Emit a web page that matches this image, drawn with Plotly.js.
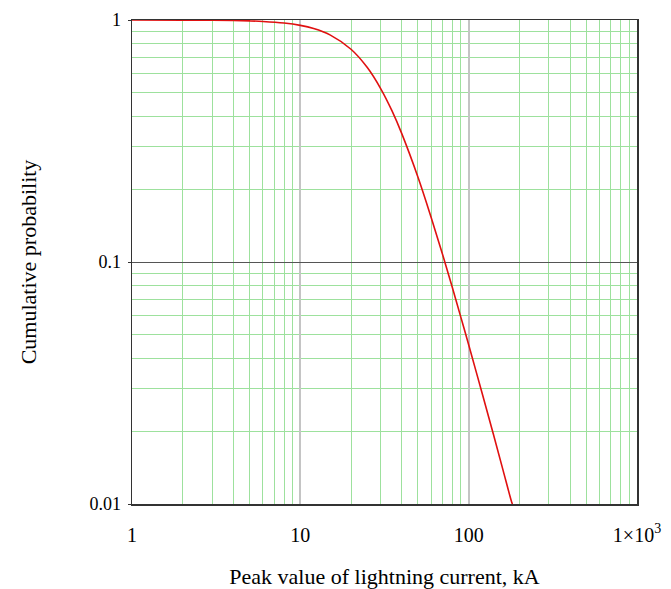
<!DOCTYPE html>
<html>
<head>
<meta charset="utf-8">
<script src="https://cdn.plot.ly/plotly-3.0.1.min.js"></script>
<style>html,body{margin:0;padding:0;background:#fff;}</style>
</head>
<body>
<div id="chart" style="width:671px;height:589px;"></div>
<script>
// Peak current (kA) and cumulative probability
const currentKA = [1, 2, 3, 4, 5, 6, 8, 10, 12, 15, 20, 25, 30, 35, 40, 50, 60, 70, 80, 90, 100, 120, 140, 160, 180, 182];
const probability = [0.9999, 0.9992, 0.9977, 0.9952, 0.9914, 0.9862, 0.9713, 0.950, 0.922, 0.868, 0.757, 0.636, 0.521, 0.422, 0.340, 0.224, 0.152, 0.1074, 0.0784, 0.0589, 0.0455, 0.0288, 0.0195, 0.0138, 0.0102, 0.0100];

const xTickVals = [1, 10, 100, 1000];
const xTickText = ["1", "10", "100", "1\u00d710<sup>3</sup>"];
const yTickVals = [0.01, 0.1, 1];
const yTickText = ["0.01", "0.1", "1"];
const xMinor = [2,3,4,5,6,7,8,9,20,30,40,50,60,70,80,90,200,300,400,500,600,700,800,900];
const yMinor = [0.02,0.03,0.04,0.05,0.06,0.07,0.08,0.09,0.2,0.3,0.4,0.5,0.6,0.7,0.8,0.9];

const fam = "Liberation Serif, Times New Roman, serif";

Plotly.newPlot("chart", [{
  x: currentKA, y: probability, type: "scatter", mode: "lines",
  line: {color: "#e01010", width: 1.6, shape: "spline"},
  hoverinfo: "skip", showlegend: false
}], {
  width: 671, height: 589,
  margin: {l: 132, r: 34, t: 20, b: 85},
  paper_bgcolor: "#fff", plot_bgcolor: "#fff",
  font: {family: fam, size: 18, color: "#000"},
  xaxis: {
    type: "log", range: [0, 3],
    tickvals: xTickVals, ticktext: xTickText,
    tickfont: {family: fam, size: 20, color: "#000"},
    ticks: "", ticklabelstandoff: 12,
    showgrid: true, gridcolor: "#c4c4c4", gridwidth: 2,
    minor: {tickvals: xMinor, showgrid: true, gridcolor: "#9de19d", gridwidth: 1, ticks: ""},
    showline: true, mirror: true, linecolor: "#333", linewidth: 1.5,
    zeroline: false,
    title: {text: "Peak value of lightning current, kA", font: {family: fam, size: 22, color: "#000"}, standoff: 24}
  },
  yaxis: {
    type: "log", range: [-2, 0],
    tickvals: yTickVals, ticktext: yTickText,
    tickfont: {family: fam, size: 18, color: "#000"},
    ticks: "outside", ticklen: 3, tickcolor: "#333", ticklabelstandoff: 3,
    showgrid: true, gridcolor: "#555", gridwidth: 1,
    minor: {tickvals: yMinor, showgrid: true, gridcolor: "#9de19d", gridwidth: 1, ticks: ""},
    showline: true, mirror: true, linecolor: "#333", linewidth: 1.5,
    zeroline: false,
    title: {text: "Cumulative probability", font: {family: fam, size: 22, color: "#000"}, standoff: 46}
  }
}, {staticPlot: true});
</script>
</body>
</html>
